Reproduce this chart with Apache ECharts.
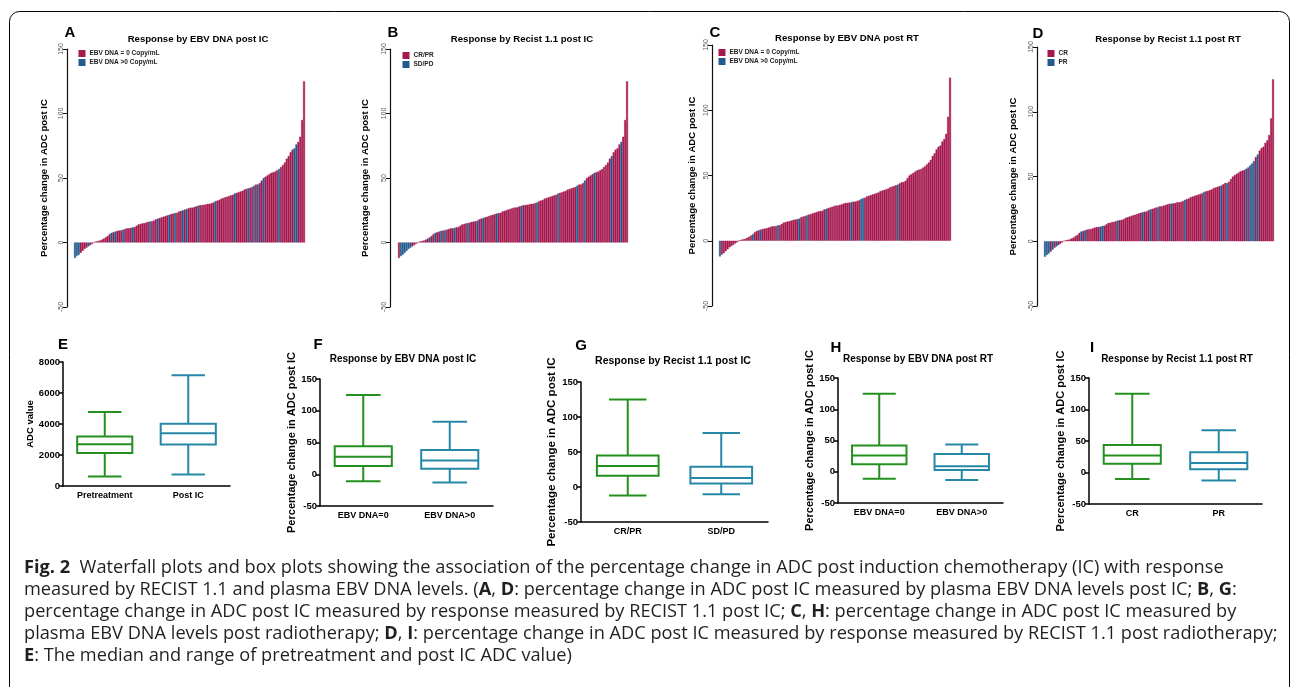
<!DOCTYPE html>
<html>
<head>
<meta charset="utf-8">
<title>Fig. 2</title>
<script src="https://cdn.jsdelivr.net/npm/echarts@6/dist/echarts.min.js"></script>
<style>
html, body { margin: 0; padding: 0; background: #fff; }
#main { width: 1293px; height: 687px; }
</style>
</head>
<body>
<div id="main"></div>
<script>
// % change in ADC post IC, sorted, one bar per patient (same bars in A-D)
var changeSorted = [
	-12, -10.5, -9.5, -8, -6.5, -5, -4, -3, -2, -1,
	0.3, 0.8, 1.2, 1.5, 2.2, 3, 4, 5, 6.5, 7.5,
	8, 8.5, 9, 9.3, 9.5, 10, 10.5, 11, 11, 11.3,
	11.8, 12, 13, 14, 14.3, 14.8, 15, 15.5, 16, 16.3,
	16.5, 17, 18, 18.5, 19, 19.5, 20, 20.5, 21, 21.5,
	22, 22.5, 22.8, 23, 24, 24.5, 25, 25.5, 26, 26.5,
	27, 27, 27.5, 28, 28.5, 29, 29, 29.3, 29.5, 30,
	30, 30.5, 31, 32, 32.5, 33, 34, 34.5, 35, 35.5,
	36, 36.5, 37, 38, 38.5, 39, 39.5, 40, 41, 41.5,
	42, 42.5, 43, 44, 45, 45, 46, 48, 50, 51,
	52, 53, 54, 54.5, 55, 56, 57, 58.5, 60, 62,
	65, 67, 70, 72, 73, 76, 78, 82, 95, 125
];
// bars of the second group (blue) in each waterfall
var blueA = [0, 1, 2, 7, 19, 21, 25, 30, 39, 43, 49, 52, 56, 58, 64, 73, 83, 90, 93, 95, 98, 106, 114, 115];
var blueB = [1, 2, 3, 4, 5, 6, 16, 19, 22, 24, 29, 36, 41, 44, 51, 64, 72, 83, 93, 97, 102, 111, 116];
var blueC = [0, 17, 21, 30, 41, 45, 55, 68, 73, 74, 92];
var blueD = [0, 1, 2, 4, 6, 19, 21, 29, 30, 38, 51, 55, 59, 66, 73, 83, 92, 95, 105, 107, 108, 109, 111];

var legendA = ['EBV DNA = 0 Copy/mL', 'EBV DNA >0 Copy/mL'];
var legendB = ['CR/PR', 'SD/PD'];
var legendC = ['EBV DNA = 0 Copy/mL', 'EBV DNA >0 Copy/mL'];
var legendD = ['CR', 'PR'];

// box plots: [min, Q1, median, Q3, max]
var catsE = ['Pretreatment', 'Post IC'];
var boxE = [[620, 2130, 2690, 3200, 4770], [750, 2670, 3400, 4020, 7140]];
var catsF = ['EBV DNA=0', 'EBV DNA>0'];
var boxF = [[-11, 13, 27.5, 44, 125], [-13, 8.5, 21.5, 38, 82.5]];
var catsG = ['CR/PR', 'SD/PD'];
var boxG = [[-12, 16, 30, 45, 125], [-10.5, 5, 13, 29, 77]];
var catsH = ['EBV DNA=0', 'EBV DNA>0'];
var boxH = [[-11, 12, 26, 42, 125], [-13, 3, 9, 28.5, 43.5]];
var catsI = ['CR', 'PR'];
var boxI = [[-10.5, 14, 27, 43.5, 125], [-12.5, 5, 15, 32, 67]];

var captionLines = [
	'{b|Fig. 2}  Waterfall plots and box plots showing the association of the percentage change in ADC post induction chemotherapy (IC) with response',
	'measured by RECIST 1.1 and plasma EBV DNA levels. ({b|A}, {b|D}: percentage change in ADC post IC measured by plasma EBV DNA levels post IC; {b|B}, {b|G}:',
	'percentage change in ADC post IC measured by response measured by RECIST 1.1 post IC; {b|C}, {b|H}: percentage change in ADC post IC measured by',
	'plasma EBV DNA levels post radiotherapy; {b|D}, {b|I}: percentage change in ADC post IC measured by response measured by RECIST 1.1 post radiotherapy;',
	'{b|E}: The median and range of pretreatment and post IC ADC value)'
];

var MAG = '#A5194F', BLUE = '#245A8E';
var GREEN = '#23901F', TEAL = '#2688A7';
var FONT = '"Liberation Sans", Arial, sans-serif';
var CAP_FONT = '"Open Sans", sans-serif';
var PCT_NAME = 'Percentage change in ADC post IC';

var grids = [], xAxes = [], yAxes = [], series = [], legends = [], graphics = [];

//瀑布图
function waterfall(idx, box, yOff, nameGap, blue, names, legendPos) {
	grids.push({ left: box[0], top: box[1], width: box[2], height: box[3] });
	xAxes.push({
		gridIndex: idx,
		type: 'category',
		show: false,
		data: changeSorted.map(function(v, i) { return i + 1; })
	});
	yAxes.push({
		gridIndex: idx,
		type: 'value',
		min: -50,
		max: 150,
		interval: 50,
		offset: yOff,
		axisLine: { show: true, lineStyle: { color: '#111', width: 1.2 } },
		axisTick: { show: true, length: 4, lineStyle: { color: '#111' } },
		axisLabel: { rotate: 90, fontSize: 7, color: '#555', margin: 2, fontFamily: FONT },
		splitLine: { show: false },
		name: PCT_NAME,
		nameLocation: 'middle',
		nameGap: nameGap,
		nameTextStyle: { fontWeight: 'bold', fontSize: 9.6, color: '#000', fontFamily: FONT }
	});
	series.push({
		type: 'bar',
		name: names[0],
		xAxisIndex: idx,
		yAxisIndex: idx,
		barGap: '-100%',
		barCategoryGap: '0%',
		itemStyle: { color: MAG, borderColor: MAG, borderWidth: 0.4 },
		data: changeSorted.map(function(v, i) { return blue.indexOf(i) >= 0 ? '-' : v; })
	});
	series.push({
		type: 'bar',
		name: names[1],
		xAxisIndex: idx,
		yAxisIndex: idx,
		barGap: '-100%',
		barCategoryGap: '0%',
		itemStyle: { color: BLUE, borderColor: BLUE, borderWidth: 0.4 },
		data: changeSorted.map(function(v, i) { return blue.indexOf(i) >= 0 ? v : '-'; })
	});
	legends.push({
		data: names,
		left: legendPos[0],
		top: legendPos[1],
		orient: 'vertical',
		icon: 'rect',
		itemWidth: 5,
		itemHeight: 5,
		itemGap: 2,
		padding: 0,
		selectedMode: false,
		textStyle: { fontSize: 6.5, fontWeight: 'bold', color: '#222', fontFamily: FONT }
	});
}

function renderBox(params, api) {
	var x = api.value(0);
	var pMin = api.coord([x, api.value(1)]);
	var pQ1 = api.coord([x, api.value(2)]);
	var pMed = api.coord([x, api.value(3)]);
	var pQ3 = api.coord([x, api.value(4)]);
	var pMax = api.coord([x, api.value(5)]);
	var band = api.size([1, 0])[0];
	var bw = band * 0.33, cw = band * 0.2;
	var color = params.dataIndex === 0 ? GREEN : TEAL;
	var st = { stroke: color, lineWidth: 2, fill: null };
	var cx = pMed[0];
	return {
		type: 'group',
		children: [
			{ type: 'line', shape: { x1: cx, y1: pMax[1], x2: cx, y2: pQ3[1] }, style: st },
			{ type: 'line', shape: { x1: cx, y1: pQ1[1], x2: cx, y2: pMin[1] }, style: st },
			{ type: 'line', shape: { x1: cx - cw, y1: pMax[1], x2: cx + cw, y2: pMax[1] }, style: st },
			{ type: 'line', shape: { x1: cx - cw, y1: pMin[1], x2: cx + cw, y2: pMin[1] }, style: st },
			{ type: 'rect', shape: { x: cx - bw, y: pQ3[1], width: bw * 2, height: pQ1[1] - pQ3[1] }, style: { stroke: color, lineWidth: 2, fill: '#fff' } },
			{ type: 'line', shape: { x1: cx - bw, y1: pMed[1], x2: cx + bw, y2: pMed[1] }, style: st }
		]
	};
}

//箱线图
function boxplot(idx, box, cats, stats, yRange, name, nameGap, nameSize) {
	grids.push({ left: box[0], top: box[1], width: box[2], height: box[3] });
	xAxes.push({
		gridIndex: idx,
		type: 'category',
		data: cats,
		axisLine: { onZero: false, lineStyle: { color: '#000', width: 1.5 } },
		axisTick: { alignWithLabel: true, length: 4, lineStyle: { color: '#000', width: 1.5 } },
		axisLabel: { fontSize: 9, fontWeight: 'bold', color: '#000', margin: 5, fontFamily: FONT }
	});
	yAxes.push({
		gridIndex: idx,
		type: 'value',
		min: yRange[0],
		max: yRange[1],
		interval: yRange[2],
		axisLine: { show: true, lineStyle: { color: '#000', width: 1.5 } },
		axisTick: { show: true, length: 4, lineStyle: { color: '#000', width: 1.5 } },
		axisLabel: {
			fontSize: 9.5,
			fontWeight: 'bold',
			color: '#000',
			margin: 3,
			fontFamily: FONT,
			formatter: function(v) { return String(v); }
		},
		splitLine: { show: false },
		name: name,
		nameLocation: 'middle',
		nameGap: nameGap,
		nameTextStyle: { fontWeight: 'bold', fontSize: nameSize, color: '#000', fontFamily: FONT }
	});
	series.push({
		type: 'custom',
		xAxisIndex: idx,
		yAxisIndex: idx,
		renderItem: renderBox,
		encode: { x: 0, y: [1, 2, 3, 4, 5] },
		data: stats.map(function(s, i) { return [i].concat(s); })
	});
}

function label(text, x, y, size) {
	graphics.push({
		type: 'text',
		x: x,
		y: y,
		style: {
			text: text,
			fontSize: size,
			fontWeight: 'bold',
			fontFamily: FONT,
			fill: '#000',
			align: 'center',
			verticalAlign: 'middle'
		}
	});
}

waterfall(0, [74, 49, 231, 258], 7, 18, blueA, legendA, [78.5, 50]);
waterfall(1, [398, 49, 230, 258], 8, 20, blueB, legendB, [402.5, 52]);
waterfall(2, [719, 45, 232, 261], 7, 15, blueC, legendC, [718.5, 49]);
waterfall(3, [1044, 47, 230, 259], 7, 19, blueD, legendD, [1047.5, 50]);

boxplot(4, [63, 362, 167, 124], catsE, boxE, [0, 8000, 2000], 'ADC value', 25, 9.5);
boxplot(5, [320, 379, 173, 127], catsF, boxF, [-50, 150, 50], PCT_NAME, 22, 11);
boxplot(6, [581, 382, 187, 140], catsG, boxG, [-50, 150, 50], PCT_NAME, 23, 11.5);
boxplot(7, [838, 378, 165, 125], catsH, boxH, [-50, 150, 50], PCT_NAME, 23, 11);
boxplot(8, [1089, 378, 173, 126], catsI, boxI, [-50, 150, 50], PCT_NAME, 17, 11);

// frame
graphics.push({
	type: 'rect',
	shape: { x: 9.5, y: 11.5, width: 1280, height: 700, r: [10, 10, 0, 0] },
	style: { fill: null, stroke: '#000', lineWidth: 1 }
});

// panel letters
label('A', 70, 33, 15);
label('B', 393, 33, 15);
label('C', 715, 33, 15);
label('D', 1038, 34, 15);
label('E', 63, 345, 15);
label('F', 318, 345, 15);
label('G', 581, 346, 15);
label('H', 836, 348, 15);
label('I', 1092, 348, 15);

// panel titles
label('Response by EBV DNA post IC', 198, 39, 9.6);
label('Response by Recist 1.1 post IC', 522, 39, 9.6);
label('Response by EBV DNA post RT', 847, 38, 9.6);
label('Response by Recist 1.1 post RT', 1168, 39, 9.6);
label('Response by EBV DNA post IC', 403, 359, 10);
label('Response by Recist 1.1 post IC', 673, 361, 10.5);
label('Response by EBV DNA post RT', 918, 359, 10);
label('Response by Recist 1.1 post RT', 1177, 359, 10);

// caption
captionLines.forEach(function(line, k) {
	graphics.push({
		type: 'text',
		x: 24,
		y: 568 + k * 22,
		scaleX: 1.04,
		style: {
			text: line,
			fontSize: 17.5,
			fontFamily: CAP_FONT,
			fill: '#231f20',
			align: 'left',
			verticalAlign: 'middle',
			rich: {
				b: { fontSize: 17.5, fontWeight: 'bold', fontFamily: CAP_FONT, fill: '#231f20' }
			}
		}
	});
});

var chart = echarts.init(document.getElementById('main'));
chart.setOption({
	animation: false,
	backgroundColor: '#fff',
	grid: grids,
	xAxis: xAxes,
	yAxis: yAxes,
	legend: legends,
	series: series,
	graphic: graphics
});
window.onresize = function() {
	chart.resize();
};
</script>
</body>
</html>
